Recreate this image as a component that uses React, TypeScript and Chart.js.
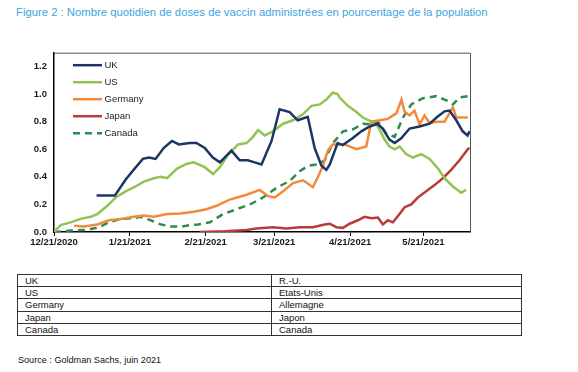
import React, { useEffect, useRef } from 'react';
import { Chart, registerables } from 'chart.js';

Chart.register(...registerables);

const titleText =
  'Figure 2 : Nombre quotidien de doses de vaccin administrées en pourcentage de la population';
const sourceText = 'Source : Goldman Sachs, juin 2021';

const seriesNames = ['UK', 'US', 'Germany', 'Japan', 'Canada'];
const frenchNames = ['R.-U.', 'Etats-Unis', 'Allemagne', 'Japon', 'Canada'];
const seriesColors = ['#1B3664', '#92C353', '#F28A3C', '#B83C3A', '#2E8B4E'];

// x = days since 12/21/2020
const xTickDays = [0, 31, 62, 90, 121, 151];
const xTickLabels = ['12/21/2020', '1/21/2021', '2/21/2021', '3/21/2021', '4/21/2021', '5/21/2021'];

const ukDays = [17.4, 24.9, 29.3, 31.8, 36.3, 38.8, 41.5, 44.9, 48.2, 51, 55.5, 58.2, 61.6, 64.9, 67.8, 72.5, 75.9, 79.2, 82, 84.8, 88.9, 92.2, 96.3, 99.6, 103.7, 106.5, 109.3, 111.3, 112.7, 115.9, 118, 122, 125.6, 129, 132.2, 134.3, 137.1, 139.2, 141.9, 145.3, 149.4, 153.5, 156.7, 159.6, 161.6, 164.4, 167, 169, 169.8];
const ukValues = [0.265, 0.265, 0.38, 0.435, 0.53, 0.54, 0.53, 0.61, 0.66, 0.635, 0.645, 0.645, 0.61, 0.54, 0.505, 0.59, 0.52, 0.52, 0.505, 0.49, 0.66, 0.89, 0.87, 0.81, 0.835, 0.61, 0.48, 0.45, 0.49, 0.645, 0.63, 0.68, 0.73, 0.765, 0.785, 0.75, 0.67, 0.645, 0.68, 0.75, 0.765, 0.785, 0.835, 0.875, 0.88, 0.81, 0.73, 0.70, 0.73];

const usDays = [0, 2.7, 6.8, 10.9, 15, 17.7, 21.8, 25.2, 29.3, 33.3, 36.7, 40.8, 43.6, 46.2, 50.3, 54.4, 57.1, 61.6, 65, 67.8, 71.1, 75.2, 78.7, 81.3, 83.4, 86.1, 89.5, 93.6, 97.7, 101.8, 105.2, 108.6, 111.3, 113.9, 115.9, 116.7, 120.1, 123.6, 126.2, 129.7, 132.4, 135.1, 137.1, 139.2, 141.2, 143.9, 146.7, 150.1, 153.5, 156.9, 159.6, 163, 166.4, 168.4];
const usValues = [0, 0.05, 0.07, 0.095, 0.11, 0.13, 0.19, 0.25, 0.295, 0.33, 0.365, 0.39, 0.40, 0.39, 0.46, 0.495, 0.505, 0.47, 0.42, 0.47, 0.56, 0.635, 0.645, 0.69, 0.74, 0.70, 0.73, 0.785, 0.81, 0.855, 0.915, 0.925, 0.96, 1.01, 1.0, 0.975, 0.915, 0.87, 0.83, 0.80, 0.765, 0.67, 0.62, 0.60, 0.62, 0.565, 0.54, 0.565, 0.53, 0.46, 0.39, 0.33, 0.285, 0.305];

const germanyDays = [8.2, 12.2, 17.7, 22.4, 27.2, 32.7, 36.7, 40.8, 46.2, 51.7, 57.1, 62.3, 66.4, 71.8, 78.7, 84.1, 87.5, 90.2, 93.6, 97.7, 101.8, 105.8, 107.9, 109.9, 111.9, 113.9, 118.8, 123.6, 127.6, 129.7, 133.1, 136.4, 139.9, 142, 143.3, 145.3, 147.3, 149.4, 151.4, 153.5, 156.2, 159.6, 163, 164.4, 166.4, 169.1];
const germanyValues = [0.045, 0.04, 0.055, 0.085, 0.095, 0.11, 0.12, 0.11, 0.13, 0.135, 0.147, 0.165, 0.19, 0.235, 0.27, 0.305, 0.26, 0.25, 0.295, 0.355, 0.375, 0.325, 0.40, 0.48, 0.59, 0.635, 0.635, 0.60, 0.62, 0.80, 0.81, 0.82, 0.86, 0.96, 0.87, 0.845, 0.88, 0.78, 0.845, 0.79, 0.80, 0.80, 0.905, 0.83, 0.83, 0.83];

const japanDays = [59.6, 69.8, 78.7, 82.7, 89.5, 95, 100.4, 105.8, 110.6, 112.7, 115.4, 118.1, 120.8, 124.2, 126.9, 129.7, 132.4, 134.4, 136.4, 138.5, 141.2, 143.3, 146, 148.7, 152.1, 155.5, 158.9, 162.3, 165.7, 169.1, 169.8];
const japanValues = [0, 0.005, 0.015, 0.025, 0.035, 0.025, 0.035, 0.035, 0.055, 0.06, 0.035, 0.03, 0.06, 0.085, 0.11, 0.10, 0.105, 0.055, 0.085, 0.07, 0.13, 0.18, 0.20, 0.25, 0.295, 0.34, 0.39, 0.45, 0.52, 0.60, 0.61];

const canadaDays = [0, 6.8, 13.6, 18.4, 22.4, 27.2, 32.7, 35.4, 39.5, 43.6, 47.6, 52.4, 55.8, 58.9, 63.7, 69.1, 74.6, 80.7, 85.4, 90.9, 96.3, 100.4, 103.8, 107.9, 110.6, 114, 118.1, 122.2, 126.2, 129.7, 132.4, 135.8, 139.2, 142.6, 146, 150.7, 156.2, 160.9, 163, 165.7, 169.1, 169.8];
const canadaValues = [0, 0.01, 0.015, 0.035, 0.07, 0.095, 0.10, 0.11, 0.085, 0.055, 0.04, 0.04, 0.05, 0.055, 0.07, 0.13, 0.165, 0.205, 0.25, 0.32, 0.37, 0.44, 0.48, 0.49, 0.52, 0.645, 0.73, 0.745, 0.785, 0.78, 0.80, 0.715, 0.69, 0.83, 0.925, 0.97, 0.985, 0.95, 0.925, 0.975, 0.985, 0.985];

const allDays = [ukDays, usDays, germanyDays, japanDays, canadaDays];
const allValues = [ukValues, usValues, germanyValues, japanValues, canadaValues];

const FONT = '"Liberation Sans", Arial, sans-serif';

const framePlugin = {
  id: 'frame',
  afterDraw(chart: any) {
    const { ctx, chartArea } = chart;
    ctx.save();
    ctx.strokeStyle = '#555';
    ctx.lineWidth = 1;
    ctx.beginPath();
    ctx.moveTo(chartArea.left, chartArea.top + 0.5);
    ctx.lineTo(chartArea.right + 0.5, chartArea.top + 0.5);
    ctx.lineTo(chartArea.right + 0.5, chartArea.bottom);
    ctx.stroke();
    ctx.restore();
  },
};

const legendPlugin = {
  id: 'innerLegend',
  afterDraw(chart: any) {
    const { ctx, chartArea } = chart;
    const x0 = chartArea.left + 19;
    const x1 = chartArea.left + 48;
    chart.data.datasets.forEach((ds: any, i: number) => {
      const y = chartArea.top + 12.5 + i * 17;
      ctx.save();
      ctx.strokeStyle = ds.borderColor;
      ctx.lineWidth = 2.5;
      ctx.setLineDash(ds.borderDash || []);
      ctx.beginPath();
      ctx.moveTo(x0, y);
      ctx.lineTo(x1, y);
      ctx.stroke();
      ctx.setLineDash([]);
      ctx.fillStyle = '#222';
      ctx.font = `9.5px ${FONT}`;
      ctx.textBaseline = 'middle';
      ctx.textAlign = 'left';
      ctx.fillText(ds.label, x1 + 2.5, y);
      ctx.restore();
    });
  },
};

function LineChart() {
  const ref = useRef<HTMLCanvasElement>(null);
  useEffect(() => {
    if (!ref.current) return;
    const datasets = seriesNames.map((name, i) => ({
      label: name,
      data: allDays[i].map((d, j) => ({ x: d, y: allValues[i][j] })),
      borderColor: seriesColors[i],
      backgroundColor: seriesColors[i],
      borderWidth: 2.5,
      borderDash: name === 'Canada' ? [7, 5] : [],
      pointRadius: 0,
      tension: 0,
      fill: false,
    }));
    const chart = new Chart(ref.current, {
      type: 'line',
      data: { datasets },
      options: {
        animation: false,
        responsive: false,
        maintainAspectRatio: false,
        layout: { padding: { top: 6, left: 0, right: 20, bottom: 8 } },
        plugins: { legend: { display: false }, tooltip: { enabled: false } },
        scales: {
          x: {
            type: 'linear',
            min: 0,
            max: 170,
            afterFit: (s: any) => { s.height = 20; },
            afterBuildTicks: (s: any) => { s.ticks = xTickDays.map((v) => ({ value: v })); },
            ticks: {
              autoSkip: false,
              maxRotation: 0,
              padding: 1,
              color: '#1a1a1a',
              font: { family: FONT, size: 9.5, weight: 'bold' },
              callback: (v: any) => {
                const idx = xTickDays.indexOf(Number(v));
                return idx >= 0 ? xTickLabels[idx] : '';
              },
            },
            grid: { display: true, drawOnChartArea: false, drawTicks: true, tickLength: 4, color: '#000', lineWidth: 1 },
            border: { display: true, color: '#000', width: 1.5 },
          },
          y: {
            min: 0,
            max: 1.3,
            afterFit: (s: any) => { s.width = 54; },
            ticks: {
              stepSize: 0.2,
              includeBounds: false,
              padding: 7,
              color: '#1a1a1a',
              font: { family: FONT, size: 9.5, weight: 'bold' },
              callback: (v: any) => Number(v).toFixed(1),
            },
            grid: { display: false, drawTicks: false },
            border: { display: true, color: '#000', width: 1.5 },
          },
        },
      },
      plugins: [framePlugin, legendPlugin],
    });
    return () => chart.destroy();
  }, []);
  return (
    <canvas
      ref={ref}
      width={490}
      height={220}
      style={{ position: 'absolute', left: 0, top: 40, width: 490, height: 220 }}
    />
  );
}

export default function App() {
  const cell: React.CSSProperties = {
    border: '1px solid #333',
    padding: '0 0 0 7px',
    height: 11.2,
    lineHeight: '11px',
    fontSize: 9.5,
    color: '#111',
    textAlign: 'left',
    verticalAlign: 'middle',
  };
  return (
    <div
      style={{
        position: 'absolute',
        left: 0,
        top: 0,
        width: 578,
        height: 372,
        background: '#fff',
        fontFamily: FONT,
        overflow: 'hidden',
      }}
    >
      <div
        style={{
          position: 'absolute',
          left: 16,
          top: 6,
          fontSize: 11.3,
          lineHeight: '13px',
          color: '#3DA5DF',
          whiteSpace: 'nowrap',
        }}
      >
        {titleText}
      </div>
      <LineChart />
      <table
        style={{
          position: 'absolute',
          left: 17,
          top: 274,
          width: 505,
          borderCollapse: 'collapse',
          tableLayout: 'fixed',
        }}
      >
        <tbody>
          {seriesNames.map((n, i) => (
            <tr key={n}>
              <td style={{ ...cell, width: 246 }}>{n}</td>
              <td style={cell}>{frenchNames[i]}</td>
            </tr>
          ))}
        </tbody>
      </table>
      <div
        style={{
          position: 'absolute',
          left: 18,
          top: 354,
          fontSize: 9.1,
          lineHeight: '12px',
          color: '#111',
          whiteSpace: 'nowrap',
        }}
      >
        {sourceText}
      </div>
    </div>
  );
}
